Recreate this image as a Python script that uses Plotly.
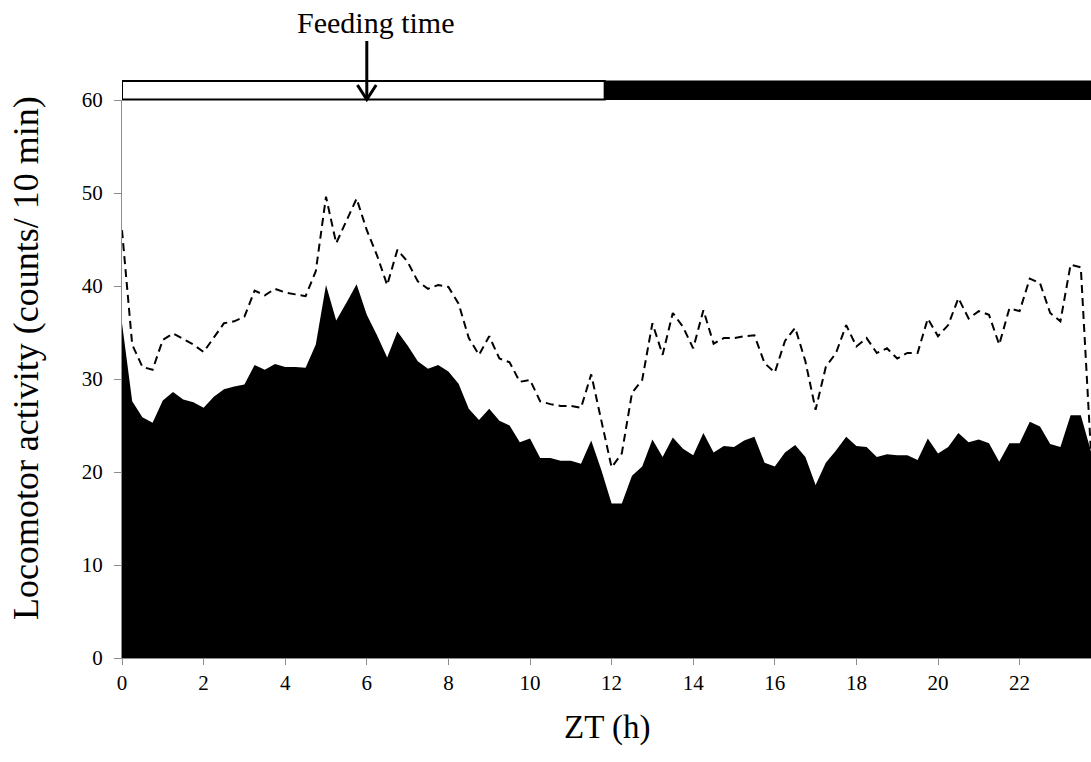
import plotly.graph_objects as go

# Zeitgeber time of each bin (h)
zt = [
    0.0, 0.25, 0.5, 0.75, 1.0, 1.25, 1.5, 1.75, 2.0, 2.25, 2.5, 2.75,
    3.0, 3.25, 3.5, 3.75, 4.0, 4.25, 4.5, 4.75, 5.0, 5.25, 5.5, 5.75,
    6.0, 6.25, 6.5, 6.75, 7.0, 7.25, 7.5, 7.75, 8.0, 8.25, 8.5, 8.75,
    9.0, 9.25, 9.5, 9.75, 10.0, 10.25, 10.5, 10.75, 11.0, 11.25, 11.5, 11.75,
    12.0, 12.25, 12.5, 12.75, 13.0, 13.25, 13.5, 13.75, 14.0, 14.25, 14.5, 14.75,
    15.0, 15.25, 15.5, 15.75, 16.0, 16.25, 16.5, 16.75, 17.0, 17.25, 17.5, 17.75,
    18.0, 18.25, 18.5, 18.75, 19.0, 19.25, 19.5, 19.75, 20.0, 20.25, 20.5, 20.75,
    21.0, 21.25, 21.5, 21.75, 22.0, 22.25, 22.5, 22.75, 23.0, 23.25, 23.5, 23.75,
]

# Mean activity, filled profile
activity_filled = [
    36.0, 27.6, 25.9, 25.3, 27.7, 28.6, 27.8, 27.5, 26.9, 28.1, 28.9, 29.2,
    29.4, 31.5, 31.0, 31.6, 31.3, 31.3, 31.2, 33.7, 40.1, 36.3, 38.2, 40.2,
    36.9, 34.7, 32.3, 35.1, 33.6, 31.9, 31.1, 31.5, 30.8, 29.5, 26.8, 25.6,
    26.8, 25.5, 25.0, 23.2, 23.6, 21.5, 21.5, 21.2, 21.2, 20.9, 23.4, 20.2,
    16.6, 16.6, 19.6, 20.6, 23.5, 21.6, 23.7, 22.5, 21.8, 24.2, 22.1, 22.8,
    22.7, 23.4, 23.8, 21.0, 20.6, 22.1, 22.9, 21.6, 18.6, 21.0, 22.3, 23.8,
    22.8, 22.7, 21.6, 21.9, 21.8, 21.8, 21.3, 23.6, 22.0, 22.7, 24.2, 23.2,
    23.5, 23.1, 21.1, 23.1, 23.1, 25.4, 24.9, 23.0, 22.7, 26.1, 26.1, 22.2,
]

# Mean activity, dashed profile
activity_dashed = [
    46.0, 33.7, 31.3, 31.0, 34.2, 34.9, 34.3, 33.7, 32.9, 34.5, 36.0, 36.2,
    36.7, 39.5, 39.0, 39.7, 39.3, 39.1, 38.9, 41.6, 49.6, 44.6, 47.1, 49.4,
    46.0, 43.3, 40.1, 43.9, 42.6, 40.5, 39.7, 40.1, 39.9, 38.1, 34.4, 32.6,
    34.6, 32.2, 31.8, 29.7, 29.9, 27.6, 27.3, 27.1, 27.1, 26.9, 30.5, 25.6,
    20.5, 22.0, 28.5, 29.9, 36.0, 32.6, 37.1, 35.6, 33.3, 37.4, 33.8, 34.4,
    34.4, 34.6, 34.7, 31.7, 30.7, 34.1, 35.5, 31.9, 26.7, 31.3, 32.8, 35.8,
    33.5, 34.4, 32.8, 33.3, 32.2, 32.8, 32.8, 36.5, 34.6, 35.8, 38.7, 36.5,
    37.3, 36.9, 33.7, 37.6, 37.3, 40.8, 40.3, 37.1, 36.2, 42.3, 42.0, 22.0,
]

x_ticks = [0, 2, 4, 6, 8, 10, 12, 14, 16, 18, 20, 22]
y_ticks = [0, 10, 20, 30, 40, 50, 60]

FEEDING_ZT = 6
LIGHT_ON, LIGHT_OFF, DAY_END = 0, 11.83, 23.75

FONT = "Liberation Serif"
GRAY = "#8c8c8c"

fig = go.Figure()

fig.add_trace(go.Scatter(
    x=zt, y=activity_filled, mode="lines", fill="tozeroy",
    fillcolor="black", line=dict(color="black", width=0),
    showlegend=False, hoverinfo="skip",
))
fig.add_trace(go.Scatter(
    x=zt, y=activity_dashed, mode="lines",
    line=dict(color="black", width=2, dash="8px,5px"),
    showlegend=False, hoverinfo="skip",
))

# plot area geometry (px) used to place the light/dark bar and arrow
plot_h = 558.0

def py(px_above_top):
    return 1 + px_above_top / plot_h

shapes = [
    # light phase (white) and dark phase (black) bar above the plot
    dict(type="rect", xref="x", yref="paper", x0=LIGHT_ON, x1=LIGHT_OFF,
         y0=py(0.5), y1=py(19), fillcolor="white",
         line=dict(color="black", width=2), layer="above"),
    dict(type="rect", xref="x", yref="paper", x0=LIGHT_OFF, x1=DAY_END,
         y0=py(0), y1=py(19.5), fillcolor="black",
         line=dict(color="black", width=0), layer="above"),
    # feeding arrow
    dict(type="line", xref="x", yref="paper", x0=FEEDING_ZT, x1=FEEDING_ZT,
         y0=py(1.5), y1=py(59), line=dict(color="black", width=3), layer="above"),
    dict(type="path", xref="x", yref="paper",
         path=f"M {FEEDING_ZT - 0.23},{py(15)} L {FEEDING_ZT},{py(0.5)} L {FEEDING_ZT + 0.23},{py(15)}",
         line=dict(color="black", width=3), layer="above"),
]

annotations = [
    dict(text="Feeding time", xref="x", yref="paper", x=FEEDING_ZT, xshift=9,
         y=py(77), showarrow=False, font=dict(family=FONT, size=30, color="black"),
         xanchor="center", yanchor="middle"),
    dict(text="Locomotor activity (counts/ 10 min)", xref="paper", yref="paper",
         x=-0.099, y=0.5376, textangle=-90, showarrow=False,
         font=dict(family=FONT, size=36, color="black"),
         xanchor="center", yanchor="middle"),
    dict(text="ZT (h)", xref="paper", yref="paper", x=0.5, y=-0.1237,
         showarrow=False, font=dict(family=FONT, size=33, color="black"),
         xanchor="center", yanchor="middle"),
]

fig.update_layout(
    width=1091, height=762,
    margin=dict(l=122, r=0, t=100, b=104),
    paper_bgcolor="white", plot_bgcolor="white",
    shapes=shapes, annotations=annotations,
    font=dict(family=FONT, size=21, color="black"),
)
fig.update_xaxes(
    range=[0, DAY_END], tickvals=x_ticks, ticktext=[str(t) for t in x_ticks],
    showgrid=False, zeroline=False, showline=True, linecolor=GRAY, linewidth=1,
    ticks="outside", ticklen=6, tickcolor=GRAY, tickfont=dict(family=FONT, size=21),
)
fig.update_yaxes(
    range=[0, 60], tickvals=y_ticks, ticktext=[str(t) for t in y_ticks],
    showgrid=False, zeroline=False, showline=True, linecolor=GRAY, linewidth=1,
    ticks="outside", ticklen=7, tickcolor=GRAY, tickfont=dict(family=FONT, size=21),
    ticklabelstandoff=7,
)

fig.write_html("out.html")
